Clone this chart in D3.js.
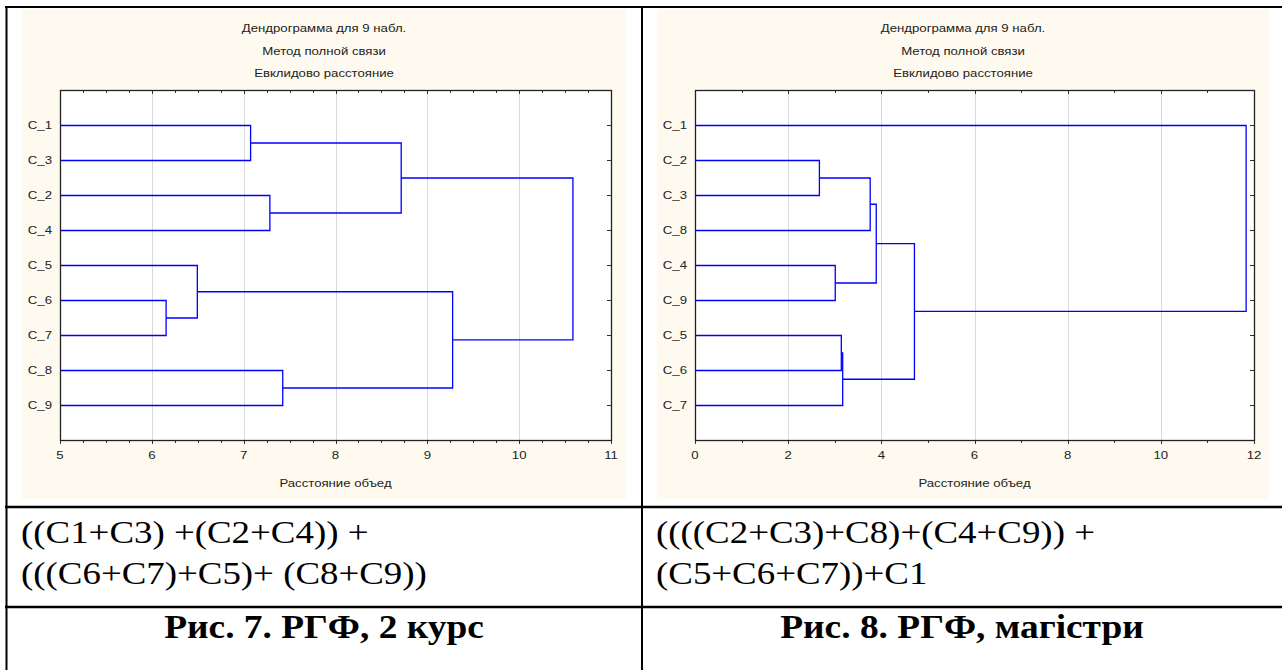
<!DOCTYPE html>
<html><head><meta charset="utf-8">
<script src="https://cdn.jsdelivr.net/npm/d3@7/dist/d3.min.js"></script>
<style>body{margin:0;background:#fff;} svg{display:block}</style>
</head><body><svg id="c" width="1282" height="670"></svg>
<script>
// ---------- data ----------
const titleLines = ["Дендрограмма для 9 набл.", "Метод полной связи", "Евклидово расстояние"];
const axisTitle = "Расстояние объед";

const leftLeaves = ["C_1","C_3","C_2","C_4","C_5","C_6","C_7","C_8","C_9"];
const leftPairs = [["C_1","C_3"],["C_2","C_4"],["#0","#1"],["C_6","C_7"],["C_5","#3"],["C_8","C_9"],["#4","#5"],["#2","#6"]];
const leftHeights = [7.07, 7.28, 8.71, 6.15, 6.49, 7.42, 9.27, 10.58];
const leftDomain = [5, 11];
const leftTicks = [5, 6, 7, 8, 9, 10, 11];
const leftMinorStep = 0.25;

const rightLeaves = ["C_1","C_2","C_3","C_8","C_4","C_9","C_5","C_6","C_7"];
const rightPairs = [["C_2","C_3"],["#0","C_8"],["C_4","C_9"],["#1","#2"],["C_5","C_6"],["#4","C_7"],["#3","#5"],["C_1","#6"]];
const rightHeights = [2.66, 3.75, 3.00, 3.88, 3.13, 3.16, 4.70, 11.82];
const rightDomain = [0, 12];
const rightTicks = [0, 2, 4, 6, 8, 10, 12];
const rightMinorStep = 1;

const formulaLeft = ["((C1+C3) +(C2+C4)) +", "(((C6+C7)+C5)+ (C8+C9))"];
const formulaRight = ["((((C2+C3)+C8)+(C4+C9)) +", "(C5+C6+C7))+C1"];
const captionLeft = "Рис. 7. РГФ, 2 курс";
const captionRight = "Рис. 8. РГФ, магістри";

// ---------- drawing ----------
const svg = d3.select("#c");
const SX = 1.2;       // horizontal stretch of the source picture (chart text)
const SANS = "'Liberation Sans', Arial, sans-serif";
const SERIF = "'Liberation Serif', 'Times New Roman', serif";

function stext(g, x, y, str, o) {
  return g.append("text")
    .attr("transform", `translate(${x},${y}) scale(${o.sx || SX},1)`)
    .attr("text-anchor", o.anchor || "start")
    .attr("font-family", o.family || SANS)
    .attr("font-size", o.size || 11)
    .attr("font-weight", o.weight || "normal")
    .attr("fill", o.fill || "#000")
    .text(str);
}

function panel(cfg) {
  const g = svg.append("g");
  const bg = cfg.bg, pa = cfg.plot;
  g.append("rect").attr("x", bg.x0).attr("y", bg.y0)
    .attr("width", bg.x1 - bg.x0).attr("height", bg.y1 - bg.y0).attr("fill", "#fffaef");
  const cx = (bg.x0 + bg.x1) / 2;
  titleLines.forEach((t, i) => stext(g, cx, 32 + i * 22.5, t, {anchor: "middle", fill: "#222"}));

  const x = d3.scaleLinear().domain(cfg.domain).range([pa.x0, pa.x1]);
  const y = d3.scalePoint().domain(cfg.leaves).range([pa.y0, pa.y1]).padding(1);

  g.append("rect").attr("x", pa.x0).attr("y", pa.y0)
    .attr("width", pa.x1 - pa.x0).attr("height", pa.y1 - pa.y0).attr("fill", "#fff");

  // grid
  g.append("g").selectAll("line").data(cfg.ticks.slice(1, -1)).join("line")
    .attr("x1", d => Math.round(x(d)) + 0.5).attr("x2", d => Math.round(x(d)) + 0.5)
    .attr("y1", pa.y0).attr("y2", pa.y1)
    .attr("stroke", "#dadada").attr("stroke-width", 1);

  // dendrogram
  const pos = {};
  cfg.leaves.forEach(l => pos[l] = {x: x(cfg.domain[0]), y: y(l)});
  const paths = [];
  cfg.pairs.forEach((p, i) => {
    const a = pos[p[0]], b = pos[p[1]];
    const xm = x(cfg.heights[i]);
    pos["#" + i] = {x: xm, y: (a.y + b.y) / 2};
    const pth = d3.path();
    pth.moveTo(a.x, a.y); pth.lineTo(xm, a.y); pth.lineTo(xm, b.y); pth.lineTo(b.x, b.y);
    paths.push(pth.toString());
  });
  g.append("g").selectAll("path").data(paths).join("path")
    .attr("d", d => d).attr("fill", "none").attr("stroke", "#0000ff")
    .attr("stroke-width", 1.3).attr("transform", "translate(0.5,0.5)");

  // minor/major ticks top & bottom (inward)
  const minor = d3.range(cfg.domain[0], cfg.domain[1] + 1e-9, cfg.minor);
  const tg = g.append("g").attr("stroke", "#333").attr("stroke-width", 1);
  minor.forEach(v => {
    const xx = Math.round(x(v)) + 0.5;
    const isMajor = cfg.ticks.some(t => Math.abs(t - v) < 1e-9);
    const len = isMajor ? 4 : 3;
    tg.append("line").attr("x1", xx).attr("x2", xx).attr("y1", pa.y0).attr("y2", pa.y0 + len);
    tg.append("line").attr("x1", xx).attr("x2", xx).attr("y1", pa.y1).attr("y2", pa.y1 + len);
  });
  // right axis ticks (inward)
  cfg.leaves.forEach(l => {
    const yy = Math.round(y(l)) + 0.5;
    tg.append("line").attr("x1", pa.x1 - 4).attr("x2", pa.x1).attr("y1", yy).attr("y2", yy);
  });

  // border
  g.append("rect").attr("x", pa.x0 + 0.5).attr("y", pa.y0 + 0.5)
    .attr("width", pa.x1 - pa.x0).attr("height", pa.y1 - pa.y0)
    .attr("fill", "none").attr("stroke", "#222").attr("stroke-width", 1.3);

  // labels
  cfg.leaves.forEach(l => stext(g, pa.x0 - 8, y(l) + 4, l, {anchor: "end", fill: "#222"}));
  cfg.ticks.forEach(t => stext(g, x(t), pa.y1 + 19, String(t), {anchor: "middle", fill: "#222"}));
  stext(g, (pa.x0 + pa.x1) / 2, pa.y1 + 47, axisTitle, {anchor: "middle", fill: "#222"});
}

panel({bg: {x0: 22, y0: 9, x1: 626, y1: 499}, plot: {x0: 60, y0: 90, x1: 611, y1: 440},
  domain: leftDomain, ticks: leftTicks, minor: leftMinorStep,
  leaves: leftLeaves, pairs: leftPairs, heights: leftHeights});
panel({bg: {x0: 657, y0: 9, x1: 1269, y1: 499}, plot: {x0: 695, y0: 90, x1: 1254, y1: 440},
  domain: rightDomain, ticks: rightTicks, minor: rightMinorStep,
  leaves: rightLeaves, pairs: rightPairs, heights: rightHeights});

// table lines
const tl = svg.append("g").attr("stroke", "#000");
tl.append("line").attr("x1", 5).attr("x2", 1282).attr("y1", 7).attr("y2", 7).attr("stroke-width", 2);
tl.append("line").attr("x1", 6.5).attr("x2", 6.5).attr("y1", 6).attr("y2", 670).attr("stroke-width", 2);
tl.append("line").attr("x1", 642).attr("x2", 642).attr("y1", 6).attr("y2", 670).attr("stroke-width", 2);
tl.append("line").attr("x1", 5).attr("x2", 1282).attr("y1", 507).attr("y2", 507).attr("stroke-width", 2.5);
tl.append("line").attr("x1", 5).attr("x2", 1282).attr("y1", 607).attr("y2", 607).attr("stroke-width", 2.5);

// formulas and captions
const tg = svg.append("g");
formulaLeft.forEach((t, i) => stext(tg, 21, 543 + i * 41, t, {family: SERIF, size: 31, sx: 1.19}));
formulaRight.forEach((t, i) => stext(tg, 656, 543 + i * 41, t, {family: SERIF, size: 31, sx: 1.19}));
stext(tg, 324, 638, captionLeft, {family: SERIF, size: 34, weight: "bold", anchor: "middle", sx: 1.1});
stext(tg, 962, 638, captionRight, {family: SERIF, size: 34, weight: "bold", anchor: "middle", sx: 1.1});
</script></body></html>
